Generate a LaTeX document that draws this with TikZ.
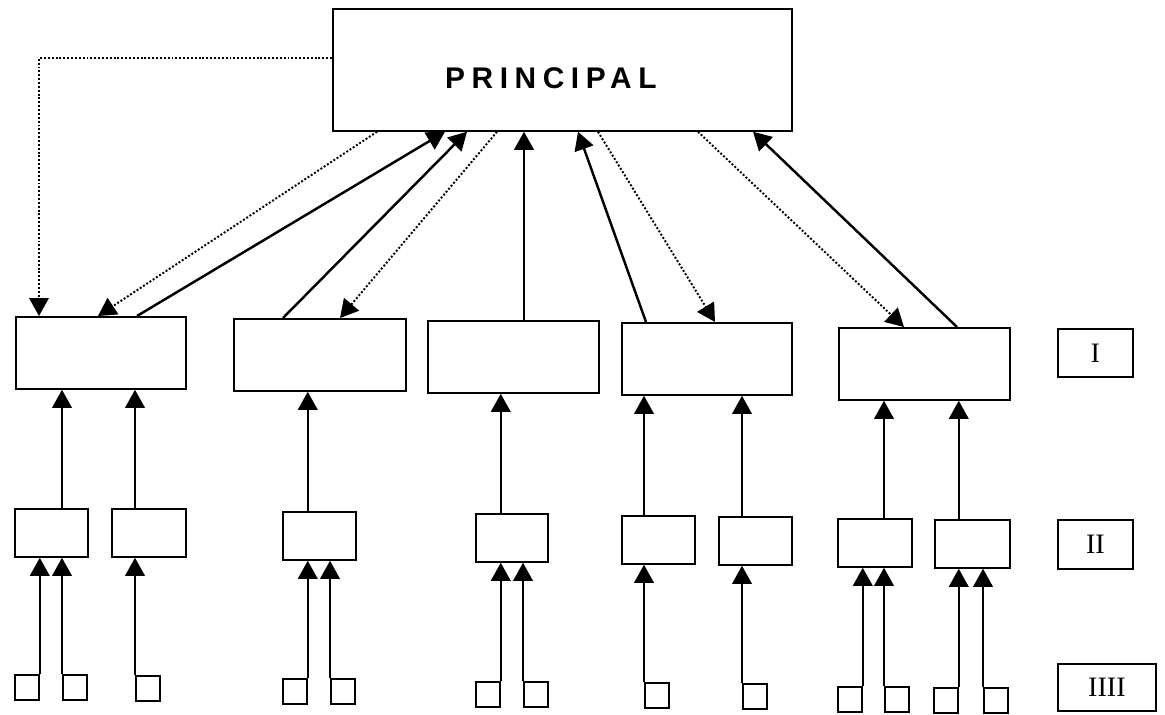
\documentclass[tikz,border=0pt]{standalone}
\usepackage{fontspec}
\newfontfamily\headfont[LetterSpace=22]{Liberation Sans}
\newfontfamily\tagfont{Liberation Serif}
\usetikzlibrary{arrows.meta,calc}

\begin{document}
\begin{tikzpicture}[
  unitbox/.style={draw=black, line width=1pt, anchor=north west, inner sep=0pt,
    minimum width=#1, minimum height=1.44cm},
  groupbox/.style={draw=black, line width=1pt, anchor=north west, inner sep=0pt,
    minimum width=#1, minimum height=0.96cm},
  leafbox/.style={draw=black, line width=1pt, anchor=north west, inner sep=0pt,
    minimum width=0.48cm, minimum height=0.5cm},
  tagbox/.style={draw=black, line width=1pt, anchor=north west, inner sep=0pt,
    minimum width=#1, font=\tagfont\fontsize{16}{18}\selectfont},
  up/.style={-{Triangle[length=3.6mm,width=3.9mm]}, line width=1.1pt},
  link/.style={-{Triangle[length=3.6mm,width=3.9mm]}, line width=1.4pt},
  order/.style={-{Triangle[length=3.6mm,width=3.9mm]}, line width=1.1pt,
    dash pattern=on 1.1pt off 1.1pt}
]
\useasboundingbox (0,0) rectangle (23.3,-14.28);

\node[draw=black, line width=1pt, anchor=north west, inner sep=0pt,
  minimum width=9.18cm, minimum height=2.44cm,
  label={[name=ptext, xshift=-0.23cm, yshift=-0.17cm,
    font=\headfont\bfseries\fontsize{17}{20}\selectfont]center:PRINCIPAL}] (p) at (6.64,-0.16) {};

% first level
\node[unitbox=3.40cm] (u1) at (0.30,-6.32) {};
\node[unitbox=3.44cm] (u2) at (4.66,-6.36) {};
\node[unitbox=3.42cm] (u3) at (8.54,-6.40) {};
\node[unitbox=3.40cm] (u4) at (12.42,-6.44) {};
\node[unitbox=3.42cm] (u5) at (16.76,-6.54) {};

% second level
\node[groupbox=1.46cm] (g1) at (0.28,-10.16) {};
\node[groupbox=1.48cm] (g2) at (2.22,-10.16) {};
\node[groupbox=1.46cm] (g3) at (5.64,-10.22) {};
\node[groupbox=1.44cm] (g4) at (9.50,-10.26) {};
\node[groupbox=1.46cm] (g5) at (12.42,-10.30) {};
\node[groupbox=1.46cm] (g6) at (14.36,-10.32) {};
\node[groupbox=1.48cm] (g7) at (16.74,-10.36) {};
\node[groupbox=1.50cm] (g8) at (18.68,-10.38) {};

% third level
\node[leafbox] (l1) at (0.28,-13.48) {};
\node[leafbox] (l2) at (1.24,-13.48) {};
\node[leafbox] (l3) at (2.70,-13.50) {};
\node[leafbox] (l4) at (5.64,-13.56) {};
\node[leafbox] (l5) at (6.60,-13.56) {};
\node[leafbox] (l6) at (9.50,-13.62) {};
\node[leafbox] (l7) at (10.46,-13.62) {};
\node[leafbox] (l8) at (12.88,-13.64) {};
\node[leafbox] (l9) at (14.84,-13.66) {};
\node[leafbox] (l10) at (16.74,-13.72) {};
\node[leafbox] (l11) at (17.68,-13.72) {};
\node[leafbox] (l12) at (18.66,-13.74) {};
\node[leafbox] (l13) at (19.66,-13.74) {};

% level tags
\node[tagbox=1.50cm, minimum height=0.96cm] (t1) at (21.14,-6.56) {I};
\node[tagbox=1.50cm, minimum height=0.98cm] (t2) at (21.14,-10.38) {II};
\node[tagbox=1.96cm, minimum height=0.94cm] (t3) at (21.14,-13.26) {IIII};

\draw[up] (l1.north east) -- (l1.north east |- g1.south);
\draw[up] (l2.north west) -- (l2.north west |- g1.south);
\draw[up] (l3.north west) -- (l3.north west |- g2.south);
\draw[up] (l4.north east) -- (l4.north east |- g3.south);
\draw[up] (l5.north west) -- (l5.north west |- g3.south);
\draw[up] (l6.north east) -- (l6.north east |- g4.south);
\draw[up] (l7.north west) -- (l7.north west |- g4.south);
\draw[up] (l8.north west) -- (l8.north west |- g5.south);
\draw[up] (l9.north west) -- (l9.north west |- g6.south);
\draw[up] (l10.north east) -- (l10.north east |- g7.south);
\draw[up] (l11.north west) -- (l11.north west |- g7.south);
\draw[up] (l12.north east) -- (l12.north east |- g8.south);
\draw[up] (l13.north west) -- (l13.north west |- g8.south);

\draw[up] (l2.north west |- g1.north) -- (l2.north west |- u1.south);
\draw[up] (l3.north west |- g2.north) -- (l3.north west |- u1.south);
\draw[up] (l4.north east |- g3.north) -- (l4.north east |- u2.south);
\draw[up] (l6.north east |- g4.north) -- (l6.north east |- u3.south);
\draw[up] (l8.north west |- g5.north) -- (l8.north west |- u4.south);
\draw[up] (l9.north west |- g6.north) -- (l9.north west |- u4.south);
\draw[up] (l11.north west |- g7.north) -- (l11.north west |- u5.south);
\draw[up] (l12.north east |- g8.north) -- (l12.north east |- u5.south);

% to and from the principal
\draw[order] ($(p.north west)+(0,-1.0)$) -| ($(u1.north west)+(0.48,0)$);
\draw[order] ($(p.south west)+(0.90,0)$) -- ($(u1.north west)+(1.66,0)$);
\draw[link] ($(u1.north west)+(2.44,0)$) -- ($(p.south west)+(2.26,0)$);
\draw[link] ($(u2.north west)+(1.00,0)$) -- ($(p.south west)+(2.70,0)$);
\draw[order] ($(p.south west)+(3.30,0)$) -- ($(u2.north west)+(2.14,0)$);
\draw[link] ($(u3.north west)+(1.94,0)$) -- ($(p.south west)+(3.84,0)$);
\draw[link] ($(u4.north west)+(0.50,0)$) -- ($(p.south west)+(4.92,0)$);
\draw[order] ($(p.south west)+(5.32,0)$) -- ($(u4.north west)+(1.88,0)$);
\draw[order] ($(p.south west)+(7.32,0)$) -- ($(u5.north west)+(1.32,0)$);
\draw[link] ($(u5.north west)+(2.38,0)$) -- ($(p.south west)+(8.42,0)$);
\end{tikzpicture}
\end{document}
